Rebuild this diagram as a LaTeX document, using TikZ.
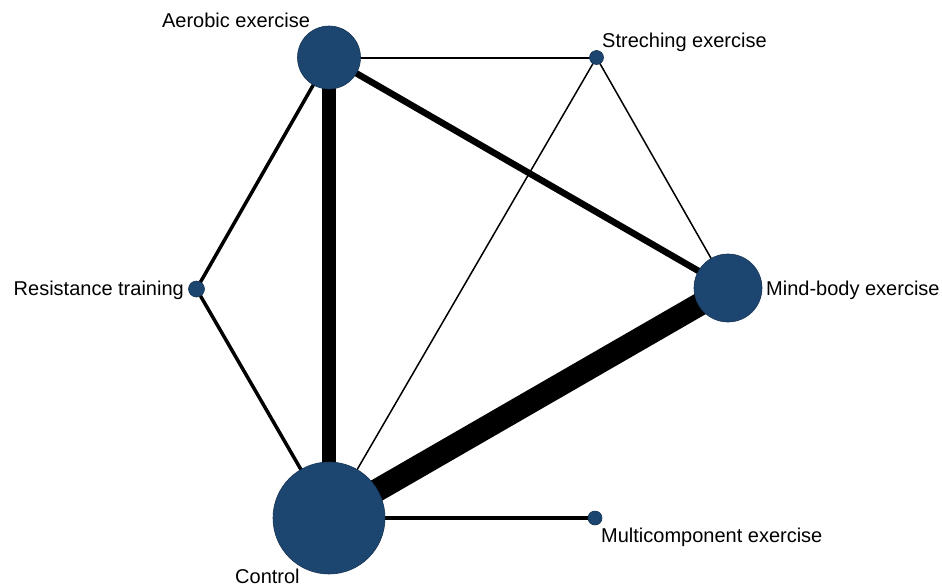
\documentclass[tikz,border=0pt]{standalone}
\usepackage{fontspec}
\setmainfont{Liberation Sans}
\usetikzlibrary{backgrounds}
\definecolor{netblue}{RGB}{28,69,112}
\begin{document}
\begin{tikzpicture}[x=1pt, y=-1pt, font=\fontsize{20}{24}\selectfont, line join=round,
    trt/.style={circle, fill=netblue, draw=netblue!75!black, line width=0.6pt, inner sep=0pt, minimum size=#1},
    lbl/.style={inner sep=0pt},
    conn/.style={line width=#1, black}]
  \useasboundingbox (0,0) rectangle (942,587);
  % treatments
  \node[trt=63pt] (aer) at (329,57.5) {};
  \node[trt=14pt] (str) at (596.5,57.5) {};
  \node[trt=68pt] (mnd) at (728,288) {};
  \node[trt=16pt] (res) at (196.5,289) {};
  \node[trt=112pt] (ctl) at (329,518) {};
  \node[trt=14pt] (mlt) at (595,518) {};
  % labels
  \node[lbl, anchor=center] (aerlbl) at (236,20) {Aerobic exercise};
  \node[lbl, anchor=base west] (strlbl) at (602,47) {Streching exercise};
  \node[lbl, anchor=base west] (mndlbl) at (766,295) {Mind-body exercise};
  \node[lbl, anchor=base east] (reslbl) at (184,295) {Resistance training};
  \node[lbl, anchor=base west] (ctllbl) at (235,583) {Control};
  \node[lbl, anchor=base west] (mltlbl) at (601,542) {Multicomponent exercise};
  % comparisons
  \begin{pgfonlayer}{background}
    \draw[conn=14.5pt] (aer.center) -- (ctl.center);
    \draw[conn=23pt] (ctl.center) -- (mnd.center);
    \draw[conn=6.5pt] (aer.center) -- (mnd.center);
    \draw[conn=2pt] (aer.center) -- (str.center);
    \draw[conn=3.5pt] (aer.center) -- (res.center);
    \draw[conn=3.5pt] (res.center) -- (ctl.center);
    \draw[conn=1.5pt] (ctl.center) -- (str.center);
    \draw[conn=1.5pt] (str.center) -- (mnd.center);
    \draw[conn=4.5pt] (ctl.center) -- (mlt.center);
  \end{pgfonlayer}
\end{tikzpicture}
\end{document}
